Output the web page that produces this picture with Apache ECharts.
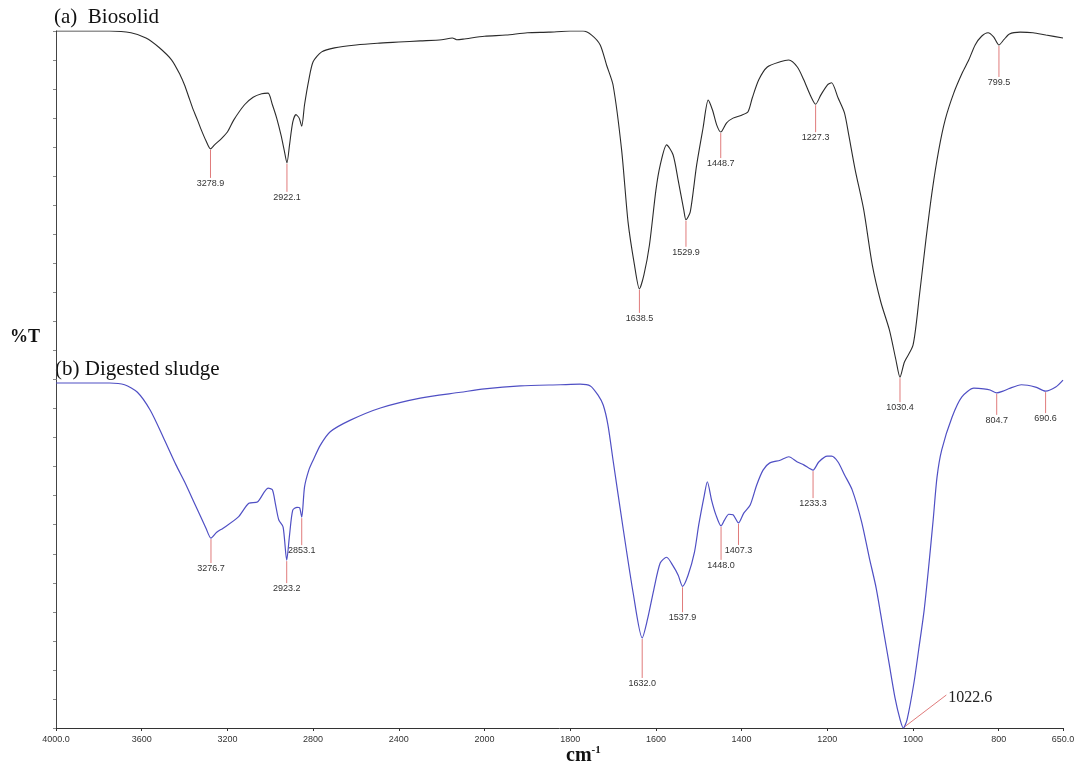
<!DOCTYPE html>
<html>
<head>
<meta charset="utf-8">
<script src="https://cdn.jsdelivr.net/npm/echarts@6/dist/echarts.min.js"></script>
<style>
html,body{margin:0;padding:0;background:#fff;}
#chart{width:1084px;height:769px;}
</style>
</head>
<body>
<div id="chart"></div>
<script>
// ---- Data (wavenumber cm-1, %T in offset display units) ----
const biosolid = [
[4000,120.0],[3750,120.0],[3650,119.7],[3580,118.8],[3520,117.2],[3460,115.0],[3420,112.4],[3400,110.7],
[3380,108.6],[3360,106.5],[3340,104.7],[3320,102.8],[3300,101.1],[3278.9,99.7],[3260,100.4],[3230,101.4],[3200,102.6],
[3170,104.7],[3120,107.3],[3080,108.6],[3040,109.2],[3010,109.3],[2990,107.3],[2970,105.0],[2950,102.1],
[2935,99.5],[2922.1,97.3],[2910,100.4],[2895,104.3],[2880,105.6],[2865,105.0],[2853.1,103.6],[2840,107.3],
[2820,111.6],[2800,114.7],[2760,116.4],[2700,117.1],[2600,117.6],[2500,117.9],[2400,118.1],[2300,118.3],
[2200,118.5],[2150,118.8],[2130,118.5],[2100,118.6],[2000,119.1],[1950,119.3],[1900,119.7],[1850,119.8],
[1800,120.0],[1770,120.0],[1750,119.3],[1730,117.6],[1715,114.1],[1700,110.7],[1680,99.5],[1665,87.1],
[1650,79.7],[1638.5,75.6],[1628,78.0],[1615,83.2],[1600,92.6],[1590,96.9],[1575,100.4],[1560,98.7],
[1548,94.3],[1535,89.2],[1529.9,87.5],[1520,88.8],[1505,96.9],[1490,103.3],[1478,108.1],[1468,106.4],
[1458,103.8],[1448.7,102.6],[1435,104.2],[1420,105.0],[1400,105.5],[1385,106.1],[1375,108.5],[1360,111.6],
[1340,113.8],[1310,114.7],[1290,115.0],[1270,113.8],[1255,111.6],[1240,109.0],[1227.3,107.4],[1215,109.0],
[1200,110.7],[1190,111.1],[1175,108.5],[1160,105.9],[1150,102.1],[1135,96.1],[1115,89.2],[1095,79.7],
[1075,73.3],[1055,68.5],[1040,63.4],[1030.4,60.4],[1020,63.0],[1000,65.9],[985,74.5],[970,84.0],
[955,92.6],[940,99.5],[925,104.7],[905,109.3],[885,112.8],[870,115.0],[855,117.6],[840,119.1],
[825,119.7],[812,119.0],[799.5,117.6],[788,118.5],[775,119.5],[750,119.8],[720,119.7],[690,119.3],[650,118.8]
];
const digested = [
[4000,59.4],[3750,59.4],[3680,59.1],[3620,57.8],[3560,54.7],[3500,50.1],[3440,45.3],[3400,42.4],
[3350,38.4],[3300,34.4],[3276.7,32.7],[3250,33.7],[3220,34.4],[3150,36.3],[3100,38.7],[3060,38.9],
[3010,41.3],[2990,41.0],[2975,38.4],[2960,35.8],[2940,34.6],[2923.2,28.9],[2910,33.2],[2895,37.5],
[2875,38.0],[2863,37.9],[2853.1,36.3],[2840,41.5],[2820,44.4],[2800,46.1],[2766,48.7],[2720,51.0],
[2626,53.0],[2486,55.1],[2300,56.8],[2112,57.8],[2000,58.4],[1916,58.9],[1823,59.1],[1777,59.2],
[1753,58.9],[1735,57.3],[1723,55.6],[1712,52.2],[1700,46.1],[1677,34.6],[1653,23.2],[1632.0,15.5],
[1620,18.6],[1605,23.8],[1590,28.4],[1575,29.4],[1560,27.9],[1548,26.3],[1537.9,24.4],[1525,26.3],
[1510,30.3],[1500,35.0],[1487,40.1],[1480,42.4],[1470,39.2],[1460,36.7],[1448.0,34.8],[1440,35.8],
[1430,36.8],[1420,36.7],[1407.3,35.3],[1395,37.0],[1380,38.4],[1365,41.8],[1350,44.4],[1335,45.6],
[1310,46.1],[1290,46.7],[1270,45.8],[1255,45.3],[1233.3,44.4],[1220,45.8],[1200,46.8],[1190,46.8],
[1175,45.8],[1160,43.6],[1142,41.0],[1120,35.5],[1102,29.3],[1086,24.1],[1070,17.2],[1056,11.2],
[1042,5.2],[1030,1.4],[1022.6,0.0],[1014,1.4],[998,7.7],[986,13.9],[974,20.3],[963,28.1],
[953,35.8],[944,43.2],[933,47.9],[909,53.5],[886,57.0],[858,58.5],[835,58.4],[820,58.2],
[804.7,57.7],[790,58.0],[777,58.4],[747,59.1],[714,58.7],[690.6,58.0],[667,58.7],[650,59.9]
];
const peaksA = [3278.9, 2922.1, 1638.5, 1529.9, 1448.7, 1227.3, 1030.4, 799.5];
const peaksB = [3276.7, 2923.2, 2853.1, 1632.0, 1537.9, 1448.0, 1407.3, 1233.3, 804.7, 690.6];
const peakB_main = [1022.6];
const xTicks = [4000, 3600, 3200, 2800, 2400, 2000, 1800, 1600, 1400, 1200, 1000, 800, 650];

// ---- styles ----
const leaderA = [29, 29, 24, 27, 26, 28, 25, 32];
const leaderB = [25, 23, 28, 40, 26, 34, 22, 28, 22, 22];

// piecewise axis: 4000-2000 compressed 2x relative to 2000-650
function toU(w) { return w >= 2000 ? (4000 - w) / 2 : 1000 + (2000 - w); }
function fromU(u) { return u <= 1000 ? 4000 - 2 * u : 2000 - (u - 1000); }

function lookup(series, w) {
  for (const p of series) if (Math.abs(p[0] - w) < 1e-6) return p[1];
  return null;
}

function peakSeries(peaks, series, lens, name) {
  return {
    type: 'custom', name: name, silent: true, z: 1,
    data: peaks.map(p => [toU(p), lookup(series, p)]),
    renderItem: function (params, api) {
      const pt = api.coord([api.value(0), api.value(1)]);
      const len = lens[params.dataIndex];
      return {
        type: 'group',
        children: [
          { type: 'line', shape: { x1: pt[0], y1: pt[1] + 1, x2: pt[0], y2: pt[1] + len },
            style: { stroke: '#e07b7b', lineWidth: 1 } },
          { type: 'text', x: pt[0], y: pt[1] + len + 1,
            style: { text: peaks[params.dataIndex].toFixed(1), fill: '#333',
                     font: '9px "Liberation Sans", sans-serif',
                     align: 'center', verticalAlign: 'top' } }
        ]
      };
    }
  };
}

const chart = echarts.init(document.getElementById('chart'), null, { renderer: 'canvas' });
const tickU = xTicks.map(toU);

const option = {
  backgroundColor: '#fff',
  animation: false,
  grid: { left: 56, right: 21, top: 31, bottom: 41 },
  xAxis: {
    type: 'value', min: 0, max: toU(650),
    axisLine: { show: true, onZero: false, lineStyle: { color: '#333', width: 1 } },
    axisTick: { show: true, length: 3, customValues: tickU, lineStyle: { color: '#333' } },
    axisLabel: {
      customValues: tickU, color: '#333', fontSize: 9, fontFamily: 'Liberation Sans', margin: 7,
      formatter: function (u) {
        const w = Math.round(fromU(u));
        return (w === 4000 || w === 650) ? w.toFixed(1) : String(w);
      }
    },
    splitLine: { show: false }
  },
  yAxis: {
    type: 'value', min: 0, max: 120, interval: 5,
    axisLine: { show: true, lineStyle: { color: '#444', width: 1 } },
    axisTick: { show: true, length: 3, lineStyle: { color: '#888' } },
    axisLabel: { show: false },
    splitLine: { show: false }
  },
  series: [
    peakSeries(peaksA, biosolid, leaderA, 'peaksA'),
    peakSeries(peaksB, digested, leaderB, 'peaksB'),
    {
      type: 'custom', silent: true, z: 1,
      data: peakB_main.map(p => [toU(p), lookup(digested, p)]),
      renderItem: function (params, api) {
        const pt = api.coord([api.value(0), api.value(1)]);
        return {
          type: 'group',
          children: [
            { type: 'line', shape: { x1: pt[0] + 1, y1: pt[1] - 1, x2: pt[0] + 43, y2: pt[1] - 33 },
              style: { stroke: '#e07b7b', lineWidth: 1 } },
            { type: 'text', x: pt[0] + 45, y: pt[1] - 30,
              style: { text: peakB_main[params.dataIndex].toFixed(1), fill: '#222',
                       font: '16px "Liberation Serif", serif',
                       align: 'left', verticalAlign: 'middle' } }
          ]
        };
      }
    },
    {
      type: 'line', name: 'Biosolid', data: biosolid.map(p => [toU(p[0]), p[1]]),
      showSymbol: false, smooth: 0.25, z: 3,
      lineStyle: { color: '#2b2b2b', width: 1.1 }, itemStyle: { color: '#2b2b2b' }
    },
    {
      type: 'line', name: 'Digested sludge', data: digested.map(p => [toU(p[0]), p[1]]),
      showSymbol: false, smooth: 0.25, z: 3,
      lineStyle: { color: '#4f4fc4', width: 1.2 }, itemStyle: { color: '#4f4fc4' }
    }
  ],
  graphic: [
    { type: 'text', left: 54, top: 7, style: { text: '(a)  Biosolid', fill: '#111', font: '21px "Liberation Serif", serif' } },
    { type: 'text', left: 55, top: 359, style: { text: '(b) Digested sludge', fill: '#111', font: '21px "Liberation Serif", serif' } },
    { type: 'text', left: 10, top: 328, style: { text: '%T', fill: '#111', font: 'bold 18px "Liberation Serif", serif' } },
    { type: 'text', left: 566, top: 745, style: {
        text: '{a|cm}{b|-1}', rich: {
          a: { font: 'bold 20px "Liberation Serif", serif', fill: '#111', verticalAlign: 'bottom' },
          b: { font: 'bold 11px "Liberation Serif", serif', fill: '#111', verticalAlign: 'top', padding: [0, 0, 10, 0] }
        } } }
  ]
};
chart.setOption(option);
</script>
</body>
</html>
